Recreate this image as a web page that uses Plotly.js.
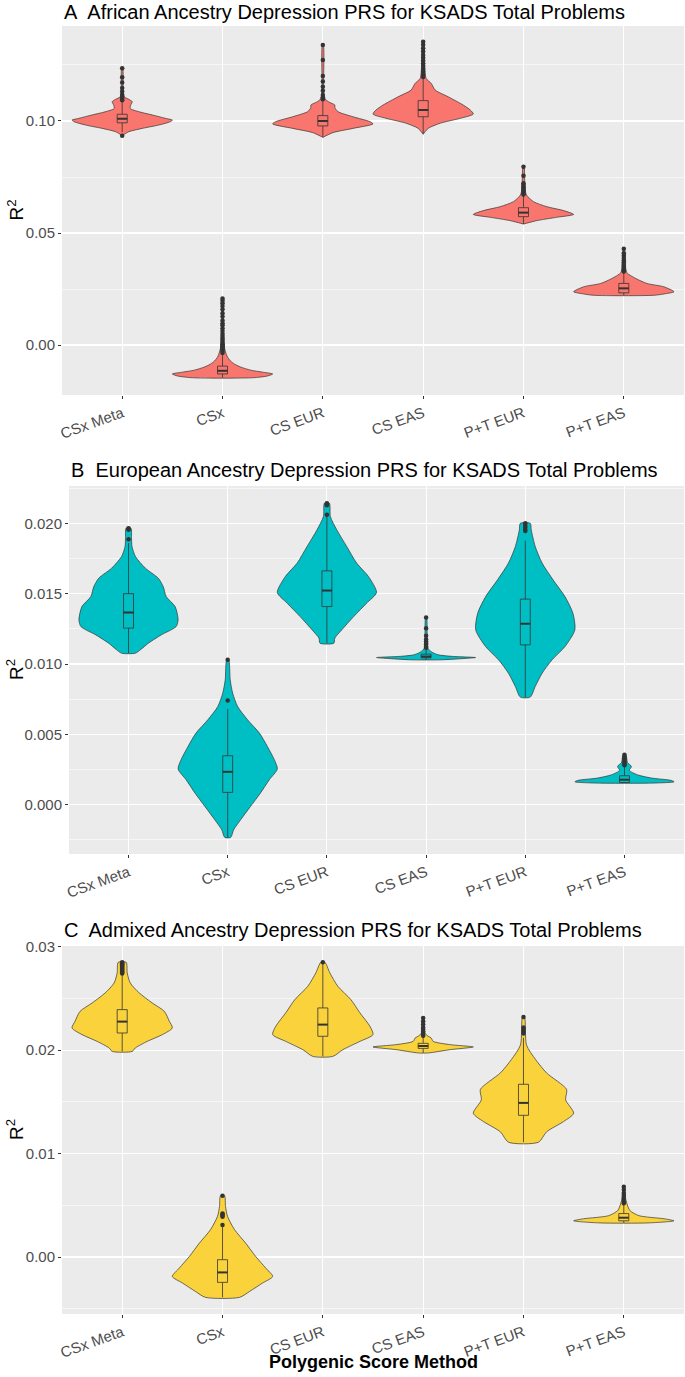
<!DOCTYPE html>
<html>
<head>
<meta charset="utf-8">
<script src="https://cdn.plot.ly/plotly-3.0.1.min.js"></script>
<style>html,body{margin:0;padding:0;background:#fff}#chart{width:685px;height:1377px}</style>
</head>
<body>
<div id="chart"></div>
<script>
const categories = ['CSx Meta','CSx','CS EUR','CS EAS','P+T EUR','P+T EAS'];

// ---------- Panel A: African ancestry ----------
const violinY_A = [
  [0.0934,0.0952,0.0967,0.0982,0.0997,0.1004,0.1012,0.1027,0.1041,0.1056,0.1071,0.1086,0.1097,0.1108,0.1140,0.1235],
  [-0.0146,-0.0138,-0.0129,-0.0121,-0.0112,-0.0098,-0.0085,-0.0071,-0.0054,-0.0031,-0.0013,0.0000,0.0040,0.0100,0.0208],
  [0.0927,0.0948,0.0967,0.0987,0.0997,0.1019,0.1042,0.1060,0.1071,0.1085,0.1097,0.1120,0.1339],
  [0.0941,0.0967,0.0990,0.1012,0.1031,0.1049,0.1071,0.1108,0.1138,0.1168,0.1190,0.1250,0.1354],
  [0.0540,0.0555,0.0570,0.0583,0.0600,0.0618,0.0640,0.0670,0.0700,0.0796],
  [0.0222,0.0228,0.0238,0.0260,0.0275,0.0297,0.0323,0.0360,0.0430]
];
const violinD_A = [
  [0.0,0.13,0.40,0.73,0.96,1.0,0.86,0.60,0.34,0.16,0.17,0.20,0.13,0.04,0.02,0.01],
  [0.6,0.9,1.0,0.8,0.56,0.36,0.24,0.16,0.10,0.06,0.04,0.03,0.02,0.015,0.01],
  [0.0,0.2,0.6,1.0,0.94,0.6,0.3,0.24,0.24,0.12,0.05,0.02,0.01],
  [0.0,0.1,0.34,0.74,1.0,0.94,0.8,0.5,0.24,0.16,0.06,0.03,0.01],
  [0.0,0.26,0.66,1.0,0.8,0.46,0.2,0.06,0.03,0.01],
  [0.6,0.8,1.0,0.8,0.46,0.24,0.06,0.03,0.01]
];
const q1_A  = [0.0992,-0.0129,0.0978,0.1019,0.0573,0.0233];
const med_A = [0.1010,-0.0115,0.1000,0.1049,0.0591,0.0253];
const q3_A  = [0.1030,-0.0094,0.1024,0.1091,0.0613,0.0275];
const lo_A  = [0.0950,-0.0146,0.0927,0.0941,0.0540,0.0222];
const hi_A  = [0.1085,-0.0045,0.1092,0.1195,0.0670,0.0327];
const outliers_A = [
  [0.1235,0.1195,0.1172,0.1147,0.1132,0.1117,0.1108,0.1100,0.1093,0.0934],
  [0.0208,0.0198,0.0187,0.0174,0.0160,0.0142,0.0127,0.0110,0.0097,0.0088,0.0075,0.0063,0.0050,0.0040,0.0030,0.0020,0.0010,0.0004,0.0000,-0.0004,-0.0008,-0.0013,-0.0019,-0.0027,-0.0036],
  [0.1339,0.1272,0.1201,0.1176,0.1153,0.1135,0.1116,0.1106,0.1097],
  [0.1354,0.1340,0.1325,0.1310,0.1295,0.1282,0.1270,0.1258,0.1245,0.1232,0.1220,0.1208,0.1196],
  [0.0796,0.0756,0.0722,0.0715,0.0708,0.0702,0.0696,0.0690,0.0684,0.0678,0.0672],
  [0.0430,0.0410,0.0398,0.0388,0.0378,0.0370,0.0362,0.0355,0.0348,0.0341,0.0334,0.0328]
];

// ---------- Panel B: European ancestry ----------
const violinY_B = [
  [0.01077,0.01101,0.01148,0.01207,0.01266,0.01314,0.01408,0.01479,0.0155,0.0161,0.01681,0.01764,0.01835,0.0190,0.01965],
  [-0.00232,-0.00178,-0.00107,-0.00012,0.00083,0.00178,0.00254,0.0032,0.00414,0.00509,0.00604,0.00698,0.00793,0.00888,0.0103],
  [0.01148,0.01184,0.01243,0.01337,0.01432,0.01508,0.01621,0.01717,0.01835,0.01953,0.02048,0.02143],
  [0.01030,0.01040,0.01046,0.01055,0.01065,0.01080,0.01100,0.0112,0.0133],
  [0.00765,0.0084,0.00935,0.0103,0.01124,0.01243,0.01361,0.01479,0.01598,0.01717,0.01835,0.01953,0.0200],
  [0.00154,0.00163,0.00173,0.0019,0.00213,0.00244,0.00272,0.0030,0.00355]
];
const violinD_B = [
  [0.14,0.24,0.4,0.66,0.96,1.0,0.94,0.76,0.70,0.6,0.34,0.14,0.07,0.06,0.05],
  [0.06,0.12,0.26,0.46,0.66,0.84,1.0,0.94,0.8,0.64,0.4,0.2,0.1,0.05,0.02],
  [0.14,0.16,0.3,0.54,0.8,1.0,0.84,0.6,0.4,0.2,0.07,0.05],
  [0.3,0.8,1.0,0.5,0.25,0.14,0.06,0.03,0.01],
  [0.1,0.2,0.34,0.54,0.8,1.0,0.96,0.8,0.56,0.34,0.2,0.12,0.1],
  [0.6,1.0,0.94,0.54,0.26,0.1,0.14,0.06,0.03]
];
const q1_B  = [0.01255,0.00088,0.01408,0.01044,0.01136,0.00158];
const med_B = [0.01366,0.00234,0.01522,0.01053,0.01286,0.00178];
const q3_B  = [0.0150,0.00348,0.01662,0.0107,0.01461,0.00206];
const lo_B  = [0.01077,-0.00232,0.01148,0.0103,0.00765,0.00154];
const hi_B  = [0.0186,0.0068,0.0205,0.0110,0.01877,0.00275];
const outliers_B = [
  [0.01965,0.01960,0.01955,0.01887],
  [0.0103,0.0074],
  [0.02143,0.02135,0.02128,0.0206],
  [0.0133,0.01255,0.0120,0.01175,0.0116,0.0115,0.0114,0.01125,0.01115],
  [0.0200,0.01985,0.01970,0.01955,0.01945],
  [0.00355,0.0034,0.0033,0.0032,0.0031,0.0030,0.0029,0.0028]
];

// ---------- Panel C: Admixed ancestry ----------
const violinY_C = [
  [0.01988,0.02021,0.02085,0.0215,0.02215,0.02279,0.02375,0.02456,0.02553,0.0265,0.02747,0.02849],
  [-0.0039,-0.00333,-0.00251,-0.00188,-0.00106,0.00006,0.00135,0.00264,0.00393,0.00489,0.00593],
  [0.0194,0.02005,0.02085,0.0215,0.0223,0.0236,0.02488,0.02617,0.02747,0.02849],
  [0.01973,0.02005,0.02031,0.02053,0.02085,0.02118,0.02134,0.0216,0.02311],
  [0.0111,0.0121,0.0131,0.0139,0.0152,0.0162,0.0178,0.0191,0.0205,0.0232],
  [0.0033,0.0035,0.0037,0.0040,0.0045,0.0052,0.0058,0.0068]
];
const violinD_C = [
  [0.2,0.26,0.5,0.8,1.0,0.94,0.84,0.6,0.34,0.16,0.1,0.08],
  [0.34,0.54,0.8,1.0,0.86,0.66,0.46,0.24,0.1,0.06,0.04],
  [0.2,0.4,0.74,1.0,0.94,0.74,0.56,0.3,0.14,0.04],
  [0.1,0.54,1.0,0.54,0.2,0.16,0.1,0.04,0.01],
  [0.3,0.46,0.8,1.0,0.84,0.86,0.46,0.24,0.06,0.02],
  [0.5,1.0,0.8,0.3,0.12,0.06,0.03,0.01]
];
const q1_C  = [0.02166,-0.00245,0.02134,0.02017,0.0137,0.0035];
const med_C = [0.02276,-0.00149,0.02247,0.0204,0.0149,0.0038];
const q3_C  = [0.02392,-0.00026,0.02408,0.02066,0.0167,0.0042];
const lo_C  = [0.01988,-0.0039,0.0194,0.01973,0.0111,0.0033];
const hi_C  = [0.0273,0.0029,0.02849,0.0213,0.0212,0.0051];
const outliers_C = [
  [0.02849,0.0284,0.0283,0.0282,0.0281,0.0280,0.0279,0.0278,0.0277,0.0276,0.0275,0.0274],
  [0.00593,0.0042,0.0041,0.0040,0.0039,0.0031],
  [0.02849],
  [0.02311,0.0228,0.0225,0.0222,0.0220,0.0218,0.0216,0.0214],
  [0.0232,0.0222,0.0220,0.0218,0.0216],
  [0.0068,0.0065,0.0062,0.0060,0.0058,0.0056,0.0054,0.0052]
];

const panelTitles = [
  'A\u00a0 African Ancestry Depression PRS for KSADS Total Problems',
  'B\u00a0 European Ancestry Depression PRS for KSADS Total Problems',
  'C\u00a0 Admixed Ancestry Depression PRS for KSADS Total Problems'
];
const fillColors = ['#F8766D','#00BFC4','#F9D23C'];

const W = 685, H = 1377;
const FONT = 'Liberation Sans, Arial, sans-serif';
const INK = '#333333';
const HALF = 0.5;    // max violin half-width in category units
const BOXW = 0.1;

const traces = [];
function addPanel(k, Ys, Ds, q1, med, q3, lo, hi, outs, color) {
  const xa = k === 1 ? 'x' : 'x' + k;
  const ya = k === 1 ? 'y' : 'y' + k;
  const pos = categories.map((c, i) => i);
  for (let i = 0; i < categories.length; i++) {
    const xs = [], ys = [];
    for (let j = 0; j < Ys[i].length; j++) { xs.push(pos[i] + Ds[i][j] * HALF); ys.push(Ys[i][j]); }
    for (let j = Ys[i].length - 1; j >= 0; j--) { xs.push(pos[i] - Ds[i][j] * HALF); ys.push(Ys[i][j]); }
    xs.push(xs[0]); ys.push(ys[0]);
    traces.push({type:'scatter', mode:'lines', x:xs, y:ys, xaxis:xa, yaxis:ya,
      fill:'toself', fillcolor:color, line:{color:INK, width:0.7, shape:'spline', smoothing:0.7},
      hoverinfo:'skip', showlegend:false});
  }
  for (let i = 0; i < categories.length; i++) {
    const p = pos[i], a = p - BOXW / 2, b = p + BOXW / 2;
    // whiskers
    traces.push({type:'scatter', mode:'lines', x:[p, p, null, p, p], y:[lo[i], q1[i], null, q3[i], hi[i]],
      xaxis:xa, yaxis:ya, line:{color:INK, width:0.8}, hoverinfo:'skip', showlegend:false});
    // box
    traces.push({type:'scatter', mode:'lines', x:[a, b, b, a, a], y:[q1[i], q1[i], q3[i], q3[i], q1[i]],
      xaxis:xa, yaxis:ya, fill:'toself', fillcolor:color, line:{color:INK, width:0.8},
      hoverinfo:'skip', showlegend:false});
    // median
    traces.push({type:'scatter', mode:'lines', x:[a, b], y:[med[i], med[i]],
      xaxis:xa, yaxis:ya, line:{color:INK, width:2}, hoverinfo:'skip', showlegend:false});
  }
  const ox = [], oy = [];
  for (let i = 0; i < categories.length; i++) {
    outs[i].forEach(v => { ox.push(pos[i]); oy.push(v); });
  }
  traces.push({type:'scatter', mode:'markers', x:ox, y:oy, xaxis:xa, yaxis:ya,
    marker:{color:INK, size:4.5}, hoverinfo:'skip', showlegend:false});
}
addPanel(1, violinY_A, violinD_A, q1_A, med_A, q3_A, lo_A, hi_A, outliers_A, fillColors[0]);
addPanel(2, violinY_B, violinD_B, q1_B, med_B, q3_B, lo_B, hi_B, outliers_B, fillColors[1]);
addPanel(3, violinY_C, violinD_C, q1_C, med_C, q3_C, lo_C, hi_C, outliers_C, fillColors[2]);

// pixel geometry of the three panels
const panels = [
  {left:62, top:26,  bottom:395,  range:[-0.0223, 0.1424],  ticks:[0,0.05,0.10], fmt:2, minor:[0.025,0.075,0.125]},
  {left:69, top:486, bottom:854,  range:[-0.0035, 0.02265], ticks:[0,0.005,0.010,0.015,0.020], fmt:3, minor:[-0.0025,0.0025,0.0075,0.0125,0.0175,0.0225]},
  {left:62, top:946, bottom:1314, range:[-0.00551, 0.03007], ticks:[0,0.01,0.02,0.03], fmt:2, minor:[-0.005,0.005,0.015,0.025]}
];
const titleY = [12, 470, 930];

const layout = {
  width: W, height: H,
  margin: {l:0, r:0, t:0, b:0},
  paper_bgcolor: '#FFFFFF',
  plot_bgcolor: '#EBEBEB',
  showlegend: false,
  font: {family: FONT, color: '#4D4D4D'},
  annotations: []
};
panels.forEach((p, i) => {
  const sx = i === 0 ? '' : String(i + 1);
  layout['xaxis' + sx] = {
    domain: [p.left / W, 684 / W], anchor: 'y' + sx, range: [-0.6, 5.6],
    tickmode: 'array', tickvals: categories.map((c, j) => j), ticktext: categories,
    tickangle: -20, tickfont: {size: 15, color: '#4D4D4D', family: FONT},
    ticks: 'outside', ticklen: 3, tickwidth: 1, tickcolor: INK,
    showgrid: true, gridcolor: '#FFFFFF', gridwidth: 1.1, zeroline: false, showline: false
  };
  layout['yaxis' + sx] = {
    domain: [1 - p.bottom / H, 1 - p.top / H], anchor: 'x' + sx, range: p.range,
    tickmode: 'array', tickvals: p.ticks, ticktext: p.ticks.map(v => v.toFixed(p.fmt)),
    tickfont: {size: 15, color: '#4D4D4D', family: FONT},
    ticks: 'outside', ticklen: 3, tickwidth: 1, tickcolor: INK,
    showgrid: true, gridcolor: '#FFFFFF', gridwidth: 1.1, zeroline: false, showline: false,
    minor: {tickmode: 'array', tickvals: p.minor, showgrid: true, gridcolor: '#FFFFFF', gridwidth: 0.55, ticks: ''}
  };
  layout.annotations.push({
    text: panelTitles[i], xref: 'paper', yref: 'paper', x: p.left / W, y: 1 - titleY[i] / H,
    xanchor: 'left', yanchor: 'middle', showarrow: false,
    font: {size: 20, color: '#000000', family: FONT}
  });
  layout.annotations.push({
    text: 'R<sup>2</sup>', xref: 'paper', yref: 'paper', x: 15 / W, y: 1 - ((p.top + p.bottom) / 2) / H,
    xanchor: 'center', yanchor: 'middle', textangle: -90, showarrow: false,
    font: {size: 19, color: '#000000', family: FONT}
  });
});
layout.annotations.push({
  text: '<b>Polygenic Score Method</b>', xref: 'paper', yref: 'paper',
  x: ((62 + 684) / 2) / W, y: 1 - 1362 / H, xanchor: 'center', yanchor: 'middle', showarrow: false,
  font: {size: 18, color: '#000000', family: FONT}
});

Plotly.newPlot('chart', traces, layout, {displayModeBar: false, staticPlot: true});
</script>
</body>
</html>
